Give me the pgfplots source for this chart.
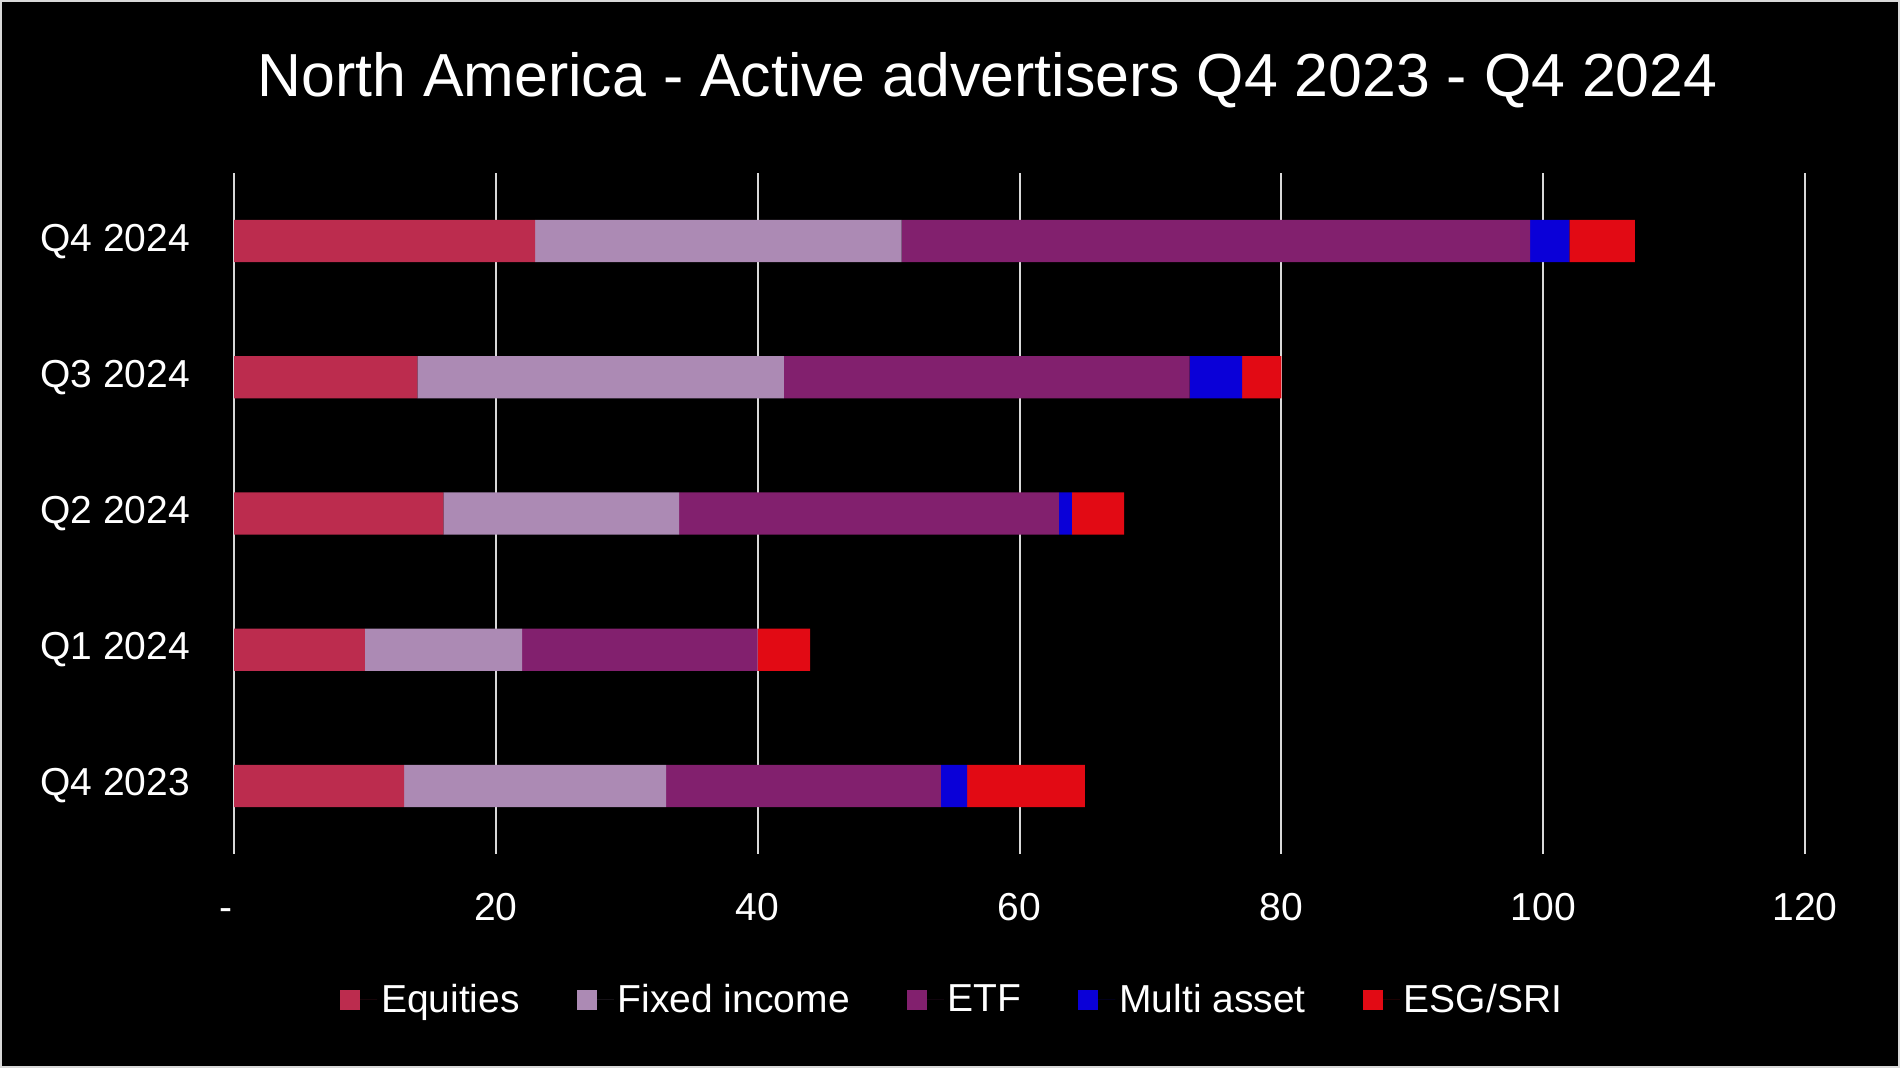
\documentclass[border=0pt]{standalone}
\usepackage{fontspec}
\setmainfont{Liberation Sans}
\usepackage{pgfplots}
\pgfplotsset{compat=1.18}
\definecolor{cEq}{HTML}{BC2C4E}
\definecolor{cFi}{HTML}{AC8AB4}
\definecolor{cEtf}{HTML}{82206E}
\definecolor{cMa}{HTML}{0A00D8}
\definecolor{cEsg}{HTML}{E20A14}
\definecolor{cGrid}{HTML}{D9D9D9}
\begin{document}
\begin{tikzpicture}
\fill[black] (0,0) rectangle (950pt,534pt);
\draw[cGrid, line width=1pt] (0.5pt,0.5pt) rectangle (949.5pt,533.5pt);
\node[text=white, font=\fontsize{30.4}{36}\selectfont] at (493.8pt,494.1pt) {North America - Active advertisers Q4 2023 - Q4 2024};
\begin{axis}[
  at={(117pt,107pt)}, anchor=south west,
  scale only axis, width=785.5pt, height=340.5pt,
  xbar stacked, bar width=0.31,
  xmin=0, xmax=120, ymin=-0.5, ymax=4.5,
  xtick={0,20,...,120}, xticklabels={{\makebox[0pt]{-\hspace{8.5pt}}},20,40,60,80,100,120},
  ytick={0,...,4}, yticklabels={Q4 2023,Q1 2024,Q2 2024,Q3 2024,Q4 2024},
  xmajorgrids, grid style={cGrid, line width=1pt},
  axis line style={draw=none}, major tick length=0pt,
  ticklabel style={text=white, font=\fontsize{19.5}{23}\selectfont},
  xticklabel style={anchor=base, yshift=-33.5pt},
  yticklabel style={anchor=west, inner sep=0pt, xshift=-97pt},
  legend style={at={(0.4577,-0.214)}, anchor=center, draw=none, fill=none, text=white,
    font=\fontsize{19.5}{23}\selectfont, legend columns=-1,
    /tikz/every even column/.append style={column sep=26.5pt}},
  legend image code/.code={\path[#1, draw=none] (0pt,-5pt) rectangle (10pt,5pt); \path (0pt,0pt) -- (18.5pt,0pt);},
]
\addplot[fill=cEq, draw=none] coordinates {(13,0) (10,1) (16,2) (14,3) (23,4)};
\addplot[fill=cFi, draw=none] coordinates {(20,0) (12,1) (18,2) (28,3) (28,4)};
\addplot[fill=cEtf, draw=none] coordinates {(21,0) (18,1) (29,2) (31,3) (48,4)};
\addplot[fill=cMa, draw=none] coordinates {(2,0) (0,1) (1,2) (4,3) (3,4)};
\addplot[fill=cEsg, draw=none] coordinates {(9,0) (4,1) (4,2) (3,3) (5,4)};
\legend{Equities, Fixed income, ETF, Multi asset, ESG/SRI}
\end{axis}
\end{tikzpicture}
\end{document}
